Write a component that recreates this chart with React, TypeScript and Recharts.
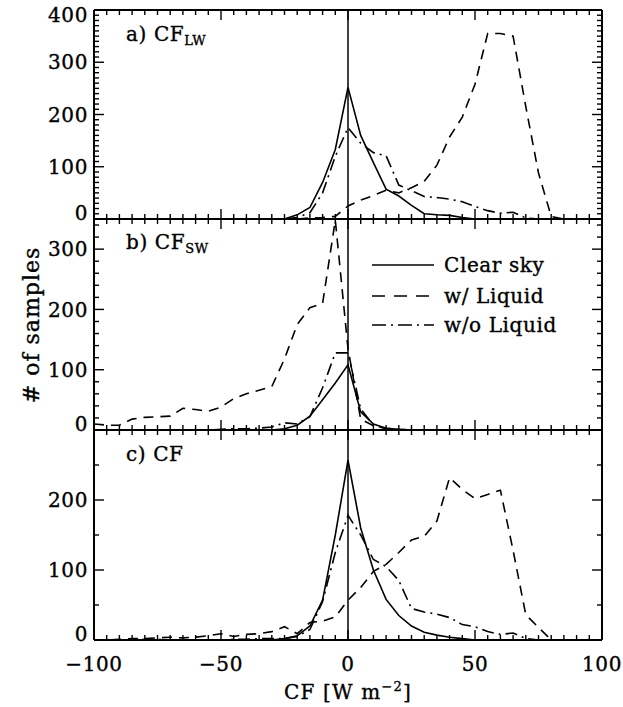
import React from 'react';
import { LineChart, Line, XAxis, YAxis, ReferenceLine } from 'recharts';

const W = 623;
const H = 707;
const LEFT = 94;
const RIGHT = 602;
const FONT = '"DejaVu Serif", serif';
const FS = 20;
const LS = 0.6;

// bin centres, W m-2
const CF_BINS = [
  -100, -95, -90, -85, -80, -75, -70, -65, -60, -55, -50, -45, -40, -35, -30,
  -25, -20, -15, -10, -5, 0, 5, 10, 15, 20, 25, 30, 35, 40, 45, 50,
  55, 60, 65, 70, 75, 80, 85, 90, 95, 100,
];
const X_TICKS = [-100, -50, 0, 50, 100];
const X_TICK_LABELS = ['\u2212100', '\u221250', '0', '50', '100'];

// a) CF_LW
const CLEAR_LW = [
  0, 0, 0, 0, 0, 0, 0, 0, 0, 0, 0, 0, 0, 0, 0,
  0, 8, 22, 70, 133, 252, 160, 108, 57, 44, 26, 10, 8, 7, 3, 0,
  0, 0, 0, 0, 0, 0, 0, 0, 0, 0,
];
const LIQUID_LW = [
  0, 0, 0, 0, 0, 0, 0, 0, 0, 0, 0, 0, 0, 0, 0,
  0, 0, 2, 3, 5, 25, 36, 45, 55, 50, 60, 72, 103, 157, 195, 258,
  355, 355, 350, 215, 88, 5, 0, 0, 0, 0,
];
const NOLIQ_LW = [
  0, 0, 0, 0, 0, 0, 0, 0, 0, 0, 0, 0, 0, 0, 0,
  0, 3, 12, 50, 120, 175, 145, 127, 121, 65, 54, 43, 41, 38, 33, 24,
  16, 11, 13, 2, 0, 0, 0, 0, 0, 0,
];

// b) CF_SW
const CLEAR_SW = [
  0, 0, 0, 0, 0, 0, 0, 0, 0, 0, 0, 0, 0, 0, 0,
  2, 8, 23, 50, 78, 108, 30, 10, 3, 1, 0, 0, 0, 0, 0, 0,
  0, 0, 0, 0, 0, 0, 0, 0, 0, 0,
];
const LIQUID_SW = [
  10, 8, 8, 18, 21, 22, 23, 36, 34, 31, 38, 52, 60, 66, 72,
  118, 175, 203, 210, 348, 135, 18, 7, 3, 1, 0, 0, 0, 0, 0, 0,
  0, 0, 0, 0, 0, 0, 0, 0, 0, 0,
];
const NOLIQ_SW = [
  0, 0, 0, 0, 0, 0, 0, 0, 0, 0, 1, 2, 2, 3, 5,
  12, 10, 22, 70, 128, 128, 35, 8, 2, 0, 0, 0, 0, 0, 0, 0,
  0, 0, 0, 0, 0, 0, 0, 0, 0, 0,
];

// c) CF
const CLEAR_CF = [
  0, 0, 0, 0, 0, 0, 0, 0, 0, 0, 0, 0, 0, 0, 0,
  2, 6, 20, 57, 150, 257, 160, 100, 58, 35, 20, 11, 7, 4, 2, 0,
  0, 0, 0, 0, 0, 0, 0, 0, 0, 0,
];
const LIQUID_CF = [
  0, 0, 1, 2, 2, 3, 4, 3, 4, 6, 9, 5, 8, 9, 12,
  19, 9, 25, 27, 33, 57, 75, 98, 108, 125, 143, 148, 170, 232, 215, 202,
  208, 214, 128, 36, 18, 0, 0, 0, 0, 0,
];
const NOLIQ_CF = [
  0, 0, 0, 0, 1, 1, 0, 0, 0, 0, 0, 1, 1, 2, 2,
  2, 5, 15, 55, 125, 178, 150, 115, 105, 85, 45, 40, 37, 32, 22, 19,
  12, 8, 10, 2, 0, 0, 0, 0, 0, 0,
];

const Y_TICKS_LW = [0, 100, 200, 300, 400];
const Y_TICKS_SW = [0, 100, 200, 300];
const Y_TICKS_CF = [0, 100, 200];

const FRAME = { stroke: '#000', strokeWidth: 2 };
const DASH = '10 7';
const DASH_DOT = '12 5 2 5';
const MAJOR_LEN = 10;
const MINOR_LEN = 5;
// the original lettering is a heavier stroke font; a thin outline gets close
const INK = { fill: '#000', stroke: '#000', strokeWidth: 0.35 };

const steps = (max: number, step: number) =>
  Array.from({ length: Math.floor(max / step) + 1 }, (_, i) => i * step);

// Ticks point inward on every side, so each tick draws its own mark
// (and its label where one is wanted).
function XTick(props: any) {
  const { x, y, payload, side, labels } = props;
  const v = payload.value;
  const major = X_TICKS.includes(v);
  const len = major ? MAJOR_LEN : MINOR_LEN;
  const dir = side === 'bottom' ? -1 : 1;
  return (
    <g>
      <line x1={x} x2={x} y1={y} y2={y + dir * len} stroke="#000" strokeWidth={1.4} />
      {labels && major && (
        <text x={x} y={y + 31} textAnchor="middle" fontFamily={FONT} fontSize={FS} letterSpacing={LS} {...INK}>
          {X_TICK_LABELS[X_TICKS.indexOf(v)]}
        </text>
      )}
    </g>
  );
}

function YTick(props: any) {
  const { x, y, payload, side, majors, max, labels } = props;
  const v = payload.value;
  const major = majors.includes(v);
  const len = major ? MAJOR_LEN : MINOR_LEN;
  const dir = side === 'left' ? 1 : -1;
  // edge labels sit a little inside the frame, as in the original
  const shift = v === 0 ? -6 : v === max ? 5 : 0;
  return (
    <g>
      <line x1={x} x2={x + dir * len} y1={y} y2={y} stroke="#000" strokeWidth={1.4} />
      {labels && major && (
        <text x={x - 6} y={y + shift} dy="0.36em" textAnchor="end" fontFamily={FONT} fontSize={FS} letterSpacing={LS} {...INK}>
          {v}
        </text>
      )}
    </g>
  );
}

type PanelProps = {
  top: number;
  bottom: number;
  yMax: number;
  yTicks: number[];
  yStep: number;
  clear: number[];
  liquid: number[];
  noLiquid: number[];
  showX?: boolean;
};

function Panel({ top, bottom, yMax, yTicks, yStep, clear, liquid, noLiquid, showX }: PanelProps) {
  const rows = CF_BINS.map((x, i) => ({ x, clear: clear[i], liquid: liquid[i], noLiquid: noLiquid[i] }));
  const yAll = steps(yMax, yStep);
  const xc = {
    type: 'number' as const, dataKey: 'x', domain: [-100, 100], allowDataOverflow: true,
    interval: 0 as const, height: 1, ticks: CF_BINS, tickSize: 0, tickMargin: 0, tickLine: false, axisLine: FRAME,
  };
  const yc = {
    type: 'number' as const, domain: [0, yMax], allowDataOverflow: true,
    interval: 0 as const, width: 1, ticks: yAll, tickSize: 0, tickMargin: 0, tickLine: false, axisLine: FRAME,
  };
  return (
    <div style={{ position: 'absolute', left: 0, top: 0 }}>
      <LineChart
        width={W}
        height={H}
        data={rows}
        margin={{ top: top - 1, bottom: H - bottom - 1, left: LEFT - 1, right: W - RIGHT - 1 }}
      >
        <XAxis xAxisId="b" orientation="bottom" tick={<XTick side="bottom" labels={showX} />} {...xc} />
        <XAxis xAxisId="t" orientation="top" tick={<XTick side="top" />} {...xc} />
        <YAxis yAxisId="l" orientation="left" tick={<YTick side="left" majors={yTicks} max={yMax} labels />} {...yc} />
        <YAxis yAxisId="r" orientation="right" tick={<YTick side="right" majors={yTicks} max={yMax} />} {...yc} />
        <ReferenceLine xAxisId="b" yAxisId="l" x={0} stroke="#000" strokeWidth={1.5} />
        <Line xAxisId="b" yAxisId="l" type="linear" dataKey="clear" stroke="#000" strokeWidth={1.6} dot={false} isAnimationActive={false} />
        <Line xAxisId="b" yAxisId="l" type="linear" dataKey="liquid" stroke="#000" strokeWidth={1.6} strokeDasharray={DASH} dot={false} isAnimationActive={false} />
        <Line xAxisId="b" yAxisId="l" type="linear" dataKey="noLiquid" stroke="#000" strokeWidth={1.6} strokeDasharray={DASH_DOT} dot={false} isAnimationActive={false} />
      </LineChart>
    </div>
  );
}

const LEGEND = [
  { label: 'Clear sky', dash: undefined as string | undefined, y: 265 },
  { label: 'w/ Liquid', dash: '13 9', y: 296 },
  { label: 'w/o Liquid', dash: '14 5 2 5', y: 325 },
];

function Overlay() {
  const t = { fontFamily: FONT, fontSize: FS, letterSpacing: LS, ...INK };
  return (
    <svg width={W} height={H} style={{ position: 'absolute', left: 0, top: 0, pointerEvents: 'none' }}>
      <text x={126} y={41} {...t}>
        a) CF<tspan fontSize={13} dy={4}>LW</tspan>
      </text>
      <text x={126} y={249} {...t}>
        b) CF<tspan fontSize={13} dy={4}>SW</tspan>
      </text>
      <text x={126} y={461} {...t}>c) CF</text>
      {LEGEND.map((l) => (
        <g key={l.label}>
          <line x1={372} x2={434} y1={l.y} y2={l.y} stroke="#000" strokeWidth={1.6} strokeDasharray={l.dash} />
          <text x={444} y={l.y} dy="0.36em" {...t}>{l.label}</text>
        </g>
      ))}
      <text x={31} y={325} textAnchor="middle" dy="0.36em" transform="rotate(-90 31 325)" {...t} fontSize={22} letterSpacing={1}>
        # of samples
      </text>
      <text x={348} y={699} textAnchor="middle" {...t} letterSpacing={1.2}>
        CF [W m<tspan fontSize={13} dy={-8}>{'\u22122'}</tspan><tspan dy={8}>]</tspan>
      </text>
    </svg>
  );
}

export default function App() {
  return (
    <div style={{ position: 'absolute', left: 0, top: 0, width: W, height: H, background: '#fff' }}>
      <Panel top={10} bottom={219} yMax={400} yTicks={Y_TICKS_LW} yStep={10} clear={CLEAR_LW} liquid={LIQUID_LW} noLiquid={NOLIQ_LW} />
      <Panel top={219} bottom={430} yMax={350} yTicks={Y_TICKS_SW} yStep={20} clear={CLEAR_SW} liquid={LIQUID_SW} noLiquid={NOLIQ_SW} />
      <Panel top={430} bottom={640} yMax={300} yTicks={Y_TICKS_CF} yStep={50} clear={CLEAR_CF} liquid={LIQUID_CF} noLiquid={NOLIQ_CF} showX />
      <Overlay />
    </div>
  );
}
